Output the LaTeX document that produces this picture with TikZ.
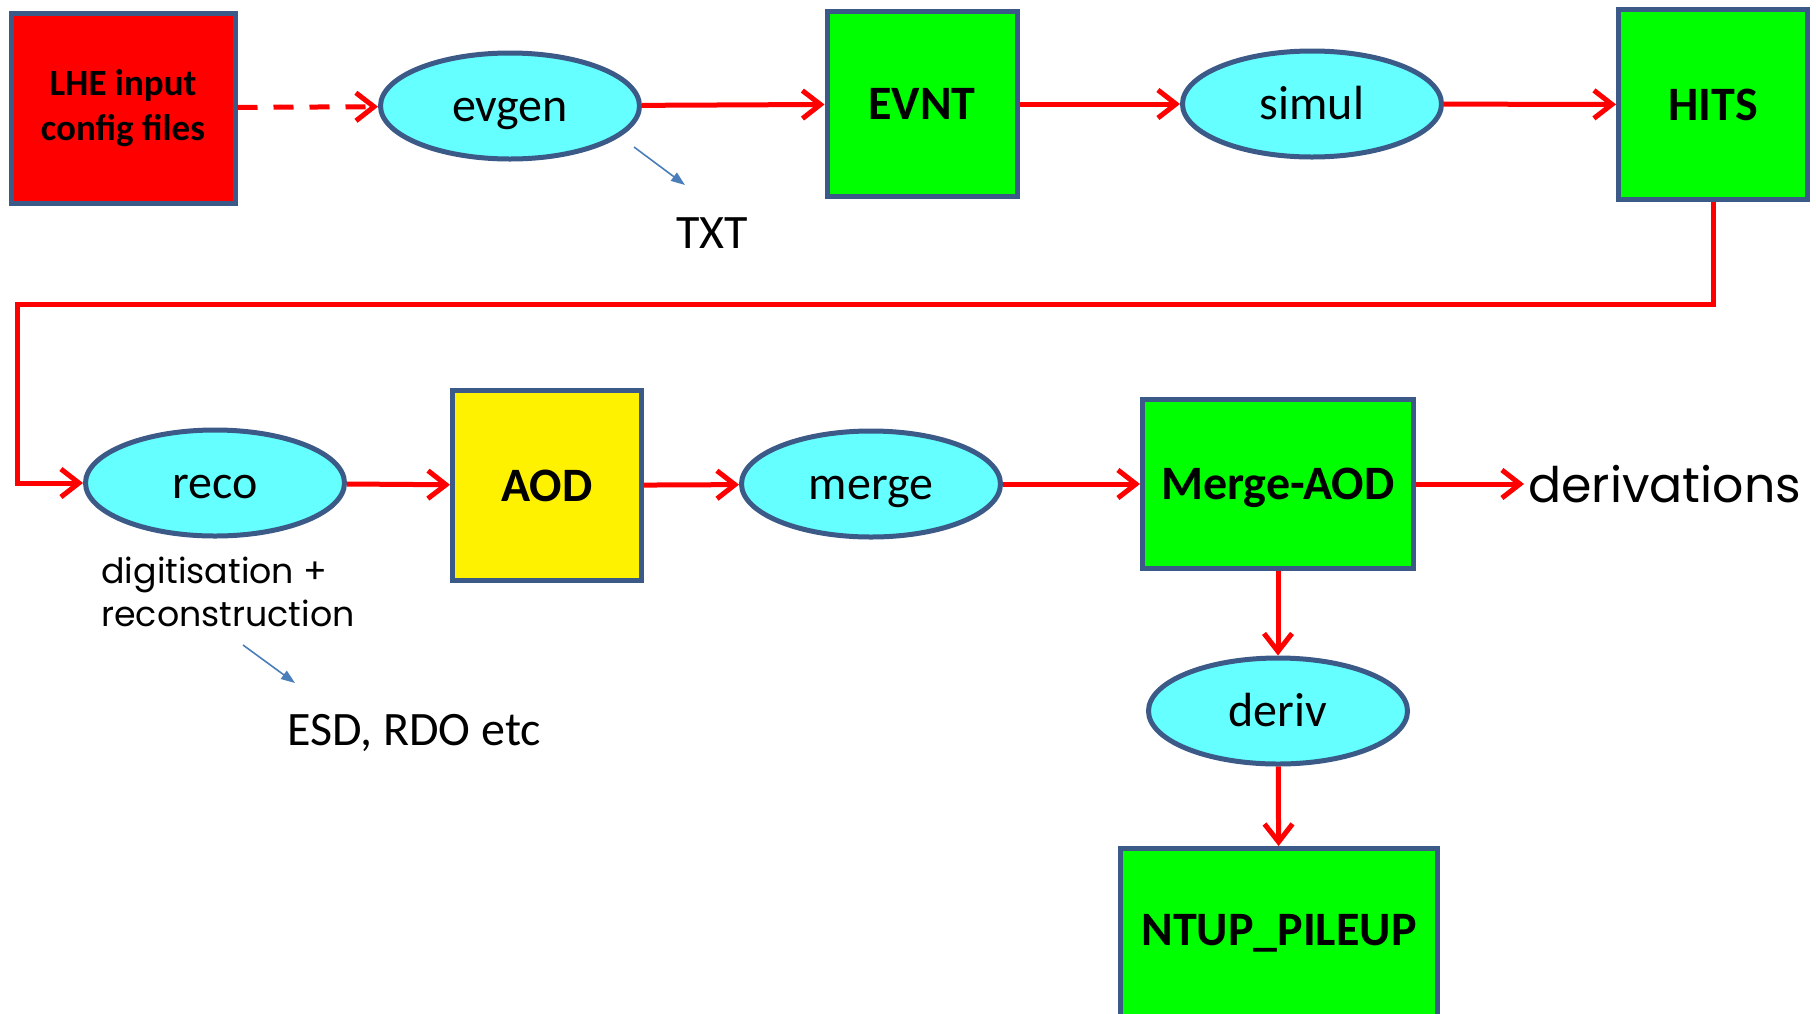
\documentclass[tikz,border=0pt]{standalone}
\usepackage{fontspec}
\setmainfont{Carlito}
\newfontfamily\handfont{Poppins}
\usepackage{tikz}
\usetikzlibrary{shapes.geometric}
\usetikzlibrary{arrows.meta}
\usetikzlibrary{positioning}
\usetikzlibrary{calc}
\definecolor{slate}{HTML}{3B5A87}
\definecolor{jobcyan}{HTML}{66FFFF}
\definecolor{filegreen}{HTML}{00FF00}
\definecolor{noteblue}{HTML}{4A7EBB}

\begin{document}
\begin{tikzpicture}[x=0.5pt,y=-0.5pt,
	filebox/.style={draw=slate,line width=2.5pt,inner sep=0pt,font=\bfseries\fontsize{24}{28}\selectfont},
	job/.style={ellipse,draw=slate,line width=2.5pt,fill=jobcyan,inner sep=0pt,minimum width=129.5pt,minimum height=53pt,text height=16pt,text depth=1pt,font=\fontsize{24}{28}\selectfont},
	flow/.style={red,line width=2.5pt,-{Straight Barb[length=9pt,width=14pt]}},
	note/.style={noteblue,line width=0.8pt,-{Triangle[length=7pt,width=5pt]}}]
	\fill[white] (0,0) rectangle (1816,1013);
	\useasboundingbox (0,0) rectangle (1816,1013);
	
	\node[filebox,fill=red,minimum width=112pt,minimum height=95pt,align=center,font=\bfseries\fontsize{18.5}{22.5}\selectfont] (lhe) at (123,108) {LHE input\\config files};
	\node[job] (evgen) at (510,106) {evgen};
	\node[filebox,fill=filegreen,minimum width=95pt,minimum height=92.5pt] (evnt) at (922,104) {EVNT};
	\node[job] (simul) at (1312,104) {simul};
	\node[filebox,fill=filegreen,minimum width=94.5pt,minimum height=95pt] (hits) at (1713,104.5) {HITS};
	
	\node[job] (reco) at (215,483) {reco};
	\node[filebox,fill=yellow,minimum width=94.5pt,minimum height=95pt] (aod) at (547,485.5) {AOD};
	\node[job] (merge) at (871,484) {merge};
	\node[filebox,fill=filegreen,minimum width=135.5pt,minimum height=84.5pt,text depth=0pt] (mergeaod) at (1278,484) {Merge-AOD};
	\node[right=54pt of mergeaod,inner sep=2pt,font=\handfont\fontsize{24.5}{28}\selectfont] (derivations) {derivations};
	\node[job] (deriv) at (1278,711) {deriv};
	\node[filebox,fill=filegreen,minimum width=158.5pt,minimum height=85pt] (ntup) at (1279,933.5) {NTUP\_PILEUP};
	
	\node[font=\fontsize{24}{28}\selectfont] (txt) at (712,233) {TXT};
	\node[align=left,font=\handfont\fontsize{17.4}{21.5}\selectfont] (digi) at (228,592) {digitisation +\\reconstruction};
	\node[font=\fontsize{24}{28}\selectfont] (esd) at (414,733) {ESD, RDO etc};
	
	\coordinate (turn) at (17,304);
	\coordinate (txtfrom) at (634,147);
	\coordinate (txtto) at (685,185);
	\coordinate (esdfrom) at (243,645);
	\coordinate (esdto) at (295,683);
	
	\draw[flow,dash pattern=on 10pt off 8pt] (lhe) -- (evgen);
	\draw[flow] (evgen) -- (evnt);
	\draw[flow] (evnt) -- (simul);
	\draw[flow] (simul) -- (hits);
	\draw[flow] (hits.south) |- (turn) |- (reco.west);
	\draw[flow] (reco) -- (aod);
	\draw[flow] (aod) -- (merge);
	\draw[flow] (merge) -- (mergeaod);
	\draw[flow] (mergeaod) -- (derivations);
	\draw[flow] (mergeaod) -- (deriv);
	\draw[flow] (deriv) -- (ntup);
	\draw[note] (txtfrom) -- (txtto);
	\draw[note] (esdfrom) -- (esdto);
\end{tikzpicture}
\end{document}
